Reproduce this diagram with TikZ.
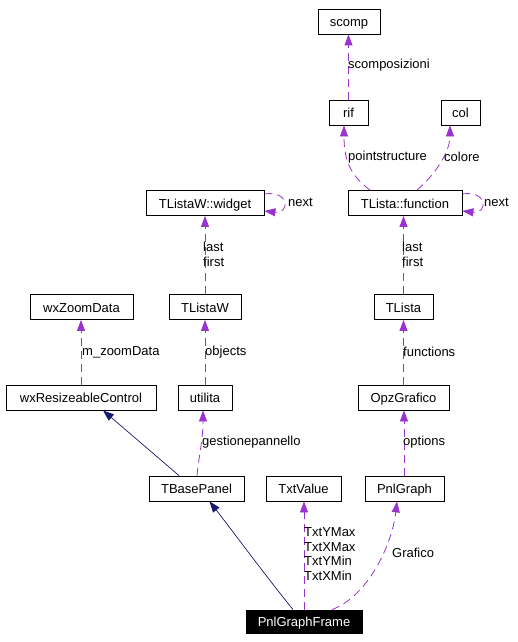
\documentclass[tikz,border=0pt]{standalone}
\usepackage{fontspec}
\setmainfont{Liberation Sans}
\usetikzlibrary{arrows.meta}
\definecolor{dep}{HTML}{9A32CD}
\definecolor{inh}{HTML}{191970}
\begin{document}
\begin{tikzpicture}[x=1pt,y=-1pt,
  box/.style={draw=black, line width=0.8pt, minimum height=25pt, inner sep=0pt,
    text height=11.5pt, text depth=1.5pt, font=\fontsize{13}{15}\selectfont},
  lbl/.style={inner sep=0pt, anchor=west, align=left, font=\fontsize{13}{14.5}\selectfont},
  depline/.style={draw=dep, line width=0.8pt, dash pattern=on 8pt off 5pt,
    -{Triangle[length=11pt,width=8pt]}},
  inhline/.style={draw=inh, line width=0.7pt, -{Triangle[length=11pt,width=8pt]}}]
\useasboundingbox (0,0) rectangle (518,642);
% nodes
\node[box, minimum width=62pt] (scomp) at (349,21.5) {scomp};
\node[box, minimum width=39pt] (rif) at (348.5,112.5) {rif};
\node[box, minimum width=39pt] (col) at (460.5,112.5) {col};
\node[box, minimum width=114pt] (func) at (405,203) {TLista::function};
\node[box, minimum width=118pt] (widget) at (205,203) {TListaW::widget};
\node[box, minimum width=103pt] (zoom) at (81.5,307) {wxZoomData};
\node[box, minimum width=72pt] (listaw) at (205,307) {TListaW};
\node[box, minimum width=59pt] (tlista) at (403.5,307) {TLista};
\node[box, minimum width=150pt] (resize) at (81,397.5) {wxResizeableControl};
\node[box, minimum width=54pt] (utilita) at (205,397.5) {utilita};
\node[box, minimum width=91pt] (opz) at (403.5,397.5) {OpzGrafico};
\node[box, minimum width=95pt] (base) at (196.5,488.5) {TBasePanel};
\node[box, minimum width=75pt] (txt) at (303.5,488.5) {TxtValue};
\node[box, minimum width=79pt] (pnl) at (404.5,488.5) {PnlGraph};
\node[box, fill=black, text=white, minimum width=116pt, minimum height=23pt] (frame) at (304,621.5) {PnlGraphFrame};
% edges
\draw[depline] (rif.north) -- (rif.north |- scomp.south);
\draw[depline] ([xshift=-35pt]func.north) .. controls (350,175) and (344,160) .. ([xshift=-4.5pt]rif.south);
\draw[depline] ([xshift=12pt]func.north) .. controls (438,172) and (450,150) .. ([xshift=-10.5pt]col.south);
\draw[depline] ([yshift=9pt]func.east) .. controls (488,190) and (488,214) .. ([yshift=-8pt]func.east);
\draw[depline] (tlista.north) -- (tlista.north |- func.south);
\draw[depline] (opz.north) -- (tlista.south);
\draw[depline] ([xshift=-0.5pt]pnl.north) -- ([xshift=-0.5pt]pnl.north |- opz.south);
\draw[depline] ([yshift=9pt]widget.east) .. controls (290,190) and (290,214) .. ([yshift=-8pt]widget.east);
\draw[depline] (listaw.north) -- (widget.south);
\draw[depline] (utilita.north) -- (listaw.south);
\draw[depline] (resize.north) -- (resize.north |- zoom.south);
\draw[depline] ([xshift=0.5pt]base.north) .. controls (199,455) and (203,440) .. ([xshift=-2pt]utilita.south);
\draw[depline] (frame.north) -- (frame.north |- txt.south);
\draw[depline] ([xshift=28pt]frame.north) .. controls (368,596) and (392,545) .. ([xshift=-7.5pt]pnl.south);
\draw[inhline] ([xshift=-11pt]frame.north) .. controls (265,575) and (228,525) .. ([xshift=13pt]base.south);
\draw[inhline] ([xshift=-17.5pt]base.north) -- ([xshift=22pt]resize.south);
% labels
\node[lbl] (l1) at (348,65) {scomposizioni};
\node[lbl] (l2) at (348,157) {pointstructure};
\node[lbl] (l3) at (444,157) {colore};
\node[lbl] (l4) at (484,202) {next};
\node[lbl] (l5) at (288,202) {next};
\node[lbl] (l6) at (203,254.5) {last\\first};
\node[lbl] (l7) at (402,254.5) {last\\first};
\node[lbl] (l8) at (82,352) {m\_zoomData};
\node[lbl] (l9) at (205,352) {objects};
\node[lbl] (l10) at (403,352) {functions};
\node[lbl] (l11) at (202,442) {gestionepannello};
\node[lbl] (l12) at (403,442) {options};
\node[lbl] (l13) at (304,554) {TxtYMax\\TxtXMax\\TxtYMin\\TxtXMin};
\node[lbl] (l14) at (392,553) {Grafico};
\end{tikzpicture}
\end{document}
